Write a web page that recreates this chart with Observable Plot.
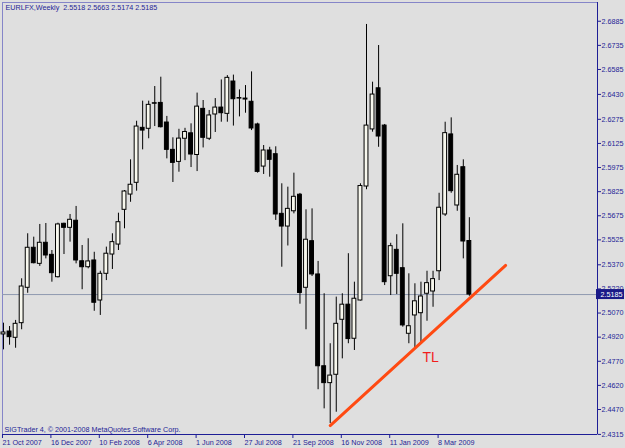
<!DOCTYPE html>
<html>
<head>
<meta charset="utf-8">
<script src="https://cdn.jsdelivr.net/npm/d3@7"></script>
<script src="https://cdn.jsdelivr.net/npm/@observablehq/plot@0.6"></script>
<style>
  html, body { margin: 0; padding: 0; background: #dfdfdf; }
  #chart { width: 625px; height: 448px; }
</style>
</head>
<body>
<div id="chart"></div>
<script>
// ---- Data (weekly candles, index 0 = week of 21 Oct 2007) ----
const opens = [2.4937,2.4955,2.4916,2.5007,2.5227,2.5476,2.5376,2.5507,2.5432,2.5293,
  2.5625,2.5600,2.5644,2.5392,2.5355,2.5397,2.5148,2.5314,2.5434,2.5496,
  2.5712,2.5807,2.5880,2.6222,2.6216,2.6375,2.6377,2.6255,2.6085,2.6010,
  2.6154,2.6188,2.6053,2.6340,2.6154,2.6305,2.6348,2.6309,2.6510,2.6407,
  2.6404,2.6384,2.6243,2.5981,2.6081,2.6058,2.5687,2.5608,2.5703,2.5806,
  2.5227,2.5517,2.5310,2.4739,2.4634,2.4686,2.5028,2.5122,2.4910,2.5148,
  2.5857,2.6212,2.6468,2.6236,2.5299,2.5463,2.5349,2.4941,2.5055,2.5069,
  2.5190,2.5204,2.5330,2.5683,2.6181,2.5739,2.5977,2.5518];
const highs = [2.5007,2.4986,2.5024,2.5283,2.5563,2.5542,2.5621,2.5627,2.5459,2.5629,
  2.5629,2.5683,2.5733,2.5490,2.5532,2.5448,2.5330,2.5480,2.5563,2.5691,
  2.5832,2.6023,2.6263,2.6388,2.6388,2.6479,2.6537,2.6293,2.6160,2.6213,
  2.6219,2.6247,2.6438,2.6392,2.6330,2.6404,2.6520,2.6547,2.6550,2.6458,
  2.6485,2.6570,2.6251,2.6112,2.6101,2.6104,2.5874,2.5853,2.5940,2.5814,
  2.5712,2.5718,2.5391,2.5190,2.4879,2.5169,2.5190,2.5439,2.5262,2.5874,
  2.6865,2.6506,2.6734,2.6243,2.5504,2.5557,2.5625,2.5314,2.5252,2.5262,
  2.5330,2.5330,2.5815,2.6257,2.6284,2.5988,2.6023,2.5663];
const lows = [2.4841,2.4870,2.4851,2.4966,2.5193,2.5376,2.5360,2.5407,2.5262,2.5288,
  2.5434,2.5511,2.5376,2.5215,2.5345,2.5081,2.5055,2.5272,2.5341,2.5459,
  2.5594,2.5759,2.5828,2.6085,2.6154,2.6230,2.6221,2.6029,2.5882,2.5946,
  2.6018,2.5975,2.5950,2.6097,2.6143,2.6193,2.6257,2.6257,2.6233,2.6290,
  2.6313,2.6205,2.5940,2.5932,2.5915,2.5646,2.5355,2.5487,2.5687,2.5125,
  2.4966,2.5297,2.4593,2.4474,2.4383,2.4453,2.4785,2.4879,2.4837,2.5145,
  2.5837,2.6195,2.6101,2.5241,2.5179,2.5185,2.4982,2.4879,2.4848,2.4879,
  2.5019,2.5106,2.5272,2.5671,2.5815,2.5703,2.5407,2.5174];
const closes = [2.4949,2.4920,2.5003,2.5235,2.5476,2.5380,2.5507,2.5428,2.5318,2.5621,
  2.5600,2.5650,2.5397,2.5355,2.5391,2.5134,2.5314,2.5439,2.5511,2.5635,
  2.5826,2.5868,2.6230,2.6205,2.6365,2.6372,2.6226,2.6085,2.6004,2.6155,
  2.6196,2.6056,2.6354,2.6160,2.6299,2.6348,2.6313,2.6533,2.6400,2.6404,
  2.6398,2.6218,2.5948,2.6081,2.6023,2.5683,2.5608,2.5718,2.5793,2.5195,
  2.5526,2.5310,2.4739,2.4634,2.4681,2.5003,2.5122,2.4908,2.5159,2.5860,
  2.6236,2.6429,2.6168,2.5262,2.5486,2.5314,2.4993,2.4988,2.5143,2.5173,
  2.5256,2.5281,2.5725,2.6189,2.5828,2.5930,2.5515,2.5185];

const xTickWeeks = [0, 8, 16, 24, 32, 40, 48, 56, 64, 72];
const xTickLabels = ["21 Oct 2007","16 Dec 2007","10 Feb 2008","6 Apr 2008","1 Jun 2008",
  "27 Jul 2008","21 Sep 2008","16 Nov 2008","11 Jan 2009","8 Mar 2009"];
const yTicks = [2.6885,2.6735,2.6585,2.6430,2.6275,2.6125,2.5975,2.5825,2.5675,2.5525,
  2.5370,2.5220,2.5070,2.4920,2.4770,2.4620,2.4470,2.4315];

// trendline drawn on the chart (week index, price)
const trendWeeks = [54, 83];
const trendPrices = [2.4370, 2.5366];
const tlLabel = [{week: 70.6, price: 2.4793, text: "TL"}];

const titleText = "EURLFX,Weekly  2.5518 2.5663 2.5174 2.5185";
const captionText = "SIGTrader 4, \u00A9 2001-2008 MetaQuotes Software Corp.";
const lastPrice = [2.5185];

// ---- Build table ----
const candles = opens.map((o, i) => ({i, open: o, high: highs[i], low: lows[i], close: closes[i]}));
const ups = candles.filter(d => d.close >= d.open);
const downs = candles.filter(d => d.close < d.open);
const trend = trendWeeks.map((w, k) => ({week: w, price: trendPrices[k]}));

const navy = "#1e1e96";
const xDomain = [-0.165, 98.18];
const yDomain = [2.43145, 2.70016];
const bw = 0.32;

const chart = Plot.plot({
  width: 625,
  height: 448,
  marginLeft: 2,
  marginRight: 28,
  marginTop: 2,
  marginBottom: 14,
  style: {background: "#dfdfdf", fontFamily: "'Liberation Sans', Arial, sans-serif", fontSize: "7.2px", color: navy},
  x: {type: "linear", domain: xDomain, axis: null},
  y: {type: "linear", domain: yDomain, axis: null},
  marks: [
    Plot.frame({stroke: "#8585c8"}),
    Plot.ruleY(lastPrice, {stroke: "#8f9ab0", strokeWidth: 1}),
    Plot.ruleX(candles, {x: "i", y1: "low", y2: "high", stroke: "#000", strokeWidth: 1}),
    Plot.rect(ups, {x1: d => d.i - bw, x2: d => d.i + bw, y1: "open", y2: "close", fill: "#f8f8ee", stroke: "#000", strokeWidth: 1}),
    Plot.rect(downs, {x1: d => d.i - bw, x2: d => d.i + bw, y1: "open", y2: "close", fill: "#000", stroke: "#000", strokeWidth: 1}),
    Plot.line(trend, {x: "week", y: "price", stroke: "#ff4a12", strokeWidth: 3}),
    Plot.text(tlLabel, {x: "week", y: "price", text: "text", fill: "#f21c1c", fontSize: 14, fontFamily: "'Liberation Sans', Arial, sans-serif"}),
    Plot.ruleX([xDomain[1]], {stroke: navy, strokeWidth: 1}),
    Plot.ruleY([yDomain[0]], {stroke: navy, strokeWidth: 1}),
    Plot.axisY(yTicks, {anchor: "right", tickSize: 3, tickPadding: 1, tickFormat: d => d.toFixed(4)}),
    Plot.axisX(xTickWeeks, {anchor: "bottom", tickSize: 4, tickPadding: 1, textAnchor: "start", dx: -1,
      tickFormat: d => xTickLabels[xTickWeeks.indexOf(d)]}),
    Plot.rect(lastPrice, {x1: xDomain[1], x2: xDomain[1], y1: d => d, y2: d => d,
      insetTop: -5, insetBottom: -5, insetLeft: -1, insetRight: -27, fill: "#1a1a88"}),
    Plot.text(lastPrice, {y: d => d, frameAnchor: "right", dx: 3, textAnchor: "start", fill: "#ffffff", text: d => d.toFixed(4)}),
    Plot.text([titleText], {frameAnchor: "top-left", dx: 3, dy: 5.5, lineAnchor: "middle", textAnchor: "start", text: d => d, fill: navy}),
    Plot.text([captionText], {frameAnchor: "bottom-left", dx: 2, dy: -5, lineAnchor: "middle", textAnchor: "start", text: d => d, fill: navy})
  ]
});
document.getElementById("chart").appendChild(chart);
</script>
</body>
</html>
